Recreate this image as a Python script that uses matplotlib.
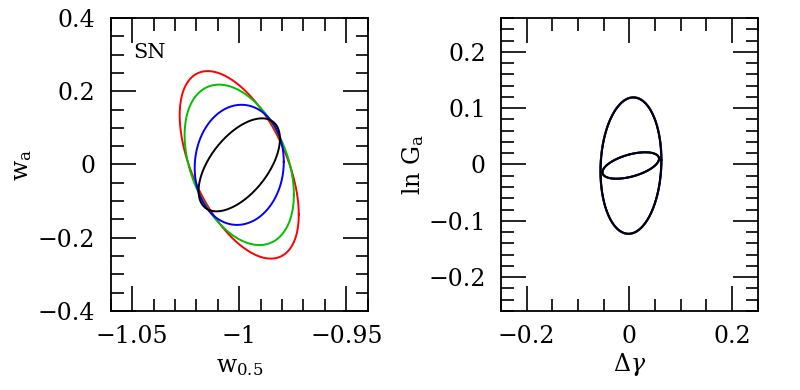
import matplotlib

matplotlib.use("Agg")
import matplotlib.pyplot as plt
import numpy as np
from matplotlib.ticker import FuncFormatter, MultipleLocator

# left panel: SN contours in (w_0.5, w_a)
sn_colors = ["#ff0000", "#00c000", "#0000ff", "#000000"]
sn_center = [-1.0, -0.001]
sn_sigma_x = [0.0278, 0.0255, 0.0208, 0.0190]
sn_sigma_y = [0.256, 0.219, 0.164, 0.127]
sn_rho = [-0.53, -0.37, 0.05, 0.56]

# right panel: growth contours in (delta gamma, ln G), colours all overlap
gr_colors = ["#ff0000", "#00c000", "#0000ff", "#000000"]
gr_big_center = [0.003, -0.002]
gr_big_sigma_x = [0.0596, 0.0593, 0.0594, 0.059]
gr_big_sigma_y = [0.1215, 0.1212, 0.1208, 0.121]
gr_big_rho = [0.08, 0.08, 0.08, 0.08]
gr_small_center = [0.0026, -0.0018]
gr_small_sigma_x = [0.0552, 0.0553, 0.0551, 0.055]
gr_small_sigma_y = [0.0236, 0.0235, 0.0234, 0.0235]
gr_small_rho = [0.51, 0.51, 0.51, 0.51]

plt.rcParams["font.family"] = "DejaVu Serif"
plt.rcParams["mathtext.fontset"] = "dejavuserif"


def ellipse(center, sx, sy, rho, n=400):
    t = np.linspace(0, 2 * np.pi, n)
    x = center[0] + sx * np.cos(t)
    y = center[1] + sy * (rho * np.cos(t) + np.sqrt(1 - rho**2) * np.sin(t))
    return x, y


def tick_fmt(v, _pos):
    s = f"{v:.2f}".rstrip("0").rstrip(".")
    if s in ("-0", ""):
        s = "0"
    return s.replace("-", "\u2212")


def style(ax, xmaj, xmin, ymaj, ymin):
    ax.xaxis.set_major_locator(MultipleLocator(xmaj))
    ax.xaxis.set_minor_locator(MultipleLocator(xmin))
    ax.yaxis.set_major_locator(MultipleLocator(ymaj))
    ax.yaxis.set_minor_locator(MultipleLocator(ymin))
    ax.xaxis.set_major_formatter(FuncFormatter(tick_fmt))
    ax.yaxis.set_major_formatter(FuncFormatter(tick_fmt))
    ax.tick_params(which="both", direction="in", top=True, right=True, width=1.2, labelsize=17)
    ax.tick_params(which="major", length=18)
    ax.tick_params(which="minor", length=9)
    ax.tick_params(axis="x", pad=10)
    ax.tick_params(axis="y", pad=11)
    for sp in ax.spines.values():
        sp.set_linewidth(1.3)


fig = plt.figure(figsize=(8, 3.9), dpi=100)
ax1 = fig.add_axes([0.1384, 0.2026, 0.3213, 0.7513])
ax2 = fig.add_axes([0.6263, 0.2026, 0.3209, 0.7513])

for c, sx, sy, r in zip(sn_colors, sn_sigma_x, sn_sigma_y, sn_rho):
    x, y = ellipse(sn_center, sx, sy, r)
    ax1.plot(x, y, color=c, lw=1.4)
ax1.set_xlim(-1.06, -0.94)
ax1.set_ylim(-0.4, 0.4)
style(ax1, 0.05, 0.01, 0.2, 0.05)
ax1.text(0.087, 0.915, "SN", transform=ax1.transAxes, fontsize=15, va="top", ha="left")
ax1.set_xlabel(r"$\mathrm{w_{0.5}}$", fontsize=17)
ax1.xaxis.set_label_coords(0.503, -0.19)
ax1.xaxis.label.set_va("center")
ax1.set_ylabel(r"$\mathrm{w_a}$", fontsize=17)
ax1.yaxis.set_label_coords(-0.345, 0.498)
ax1.yaxis.label.set_va("center")

for i, c in enumerate(gr_colors):
    x, y = ellipse(gr_big_center, gr_big_sigma_x[i], gr_big_sigma_y[i], gr_big_rho[i])
    ax2.plot(x, y, color=c, lw=1.4)
    x, y = ellipse(gr_small_center, gr_small_sigma_x[i], gr_small_sigma_y[i], gr_small_rho[i])
    ax2.plot(x, y, color=c, lw=1.4)
ax2.set_xlim(-0.25, 0.25)
ax2.set_ylim(-0.26, 0.26)
style(ax2, 0.2, 0.05, 0.1, 0.02)
ax2.set_xlabel(r"$\Delta\gamma$", fontsize=17)
ax2.xaxis.set_label_coords(0.502, -0.184)
ax2.xaxis.label.set_va("center")
ax2.set_ylabel(r"$\mathrm{ln\ G_a}$", fontsize=17)
ax2.yaxis.set_label_coords(-0.343, 0.50)
ax2.yaxis.label.set_va("center")

fig.savefig("out.png", dpi=100)
plt.close(fig)
